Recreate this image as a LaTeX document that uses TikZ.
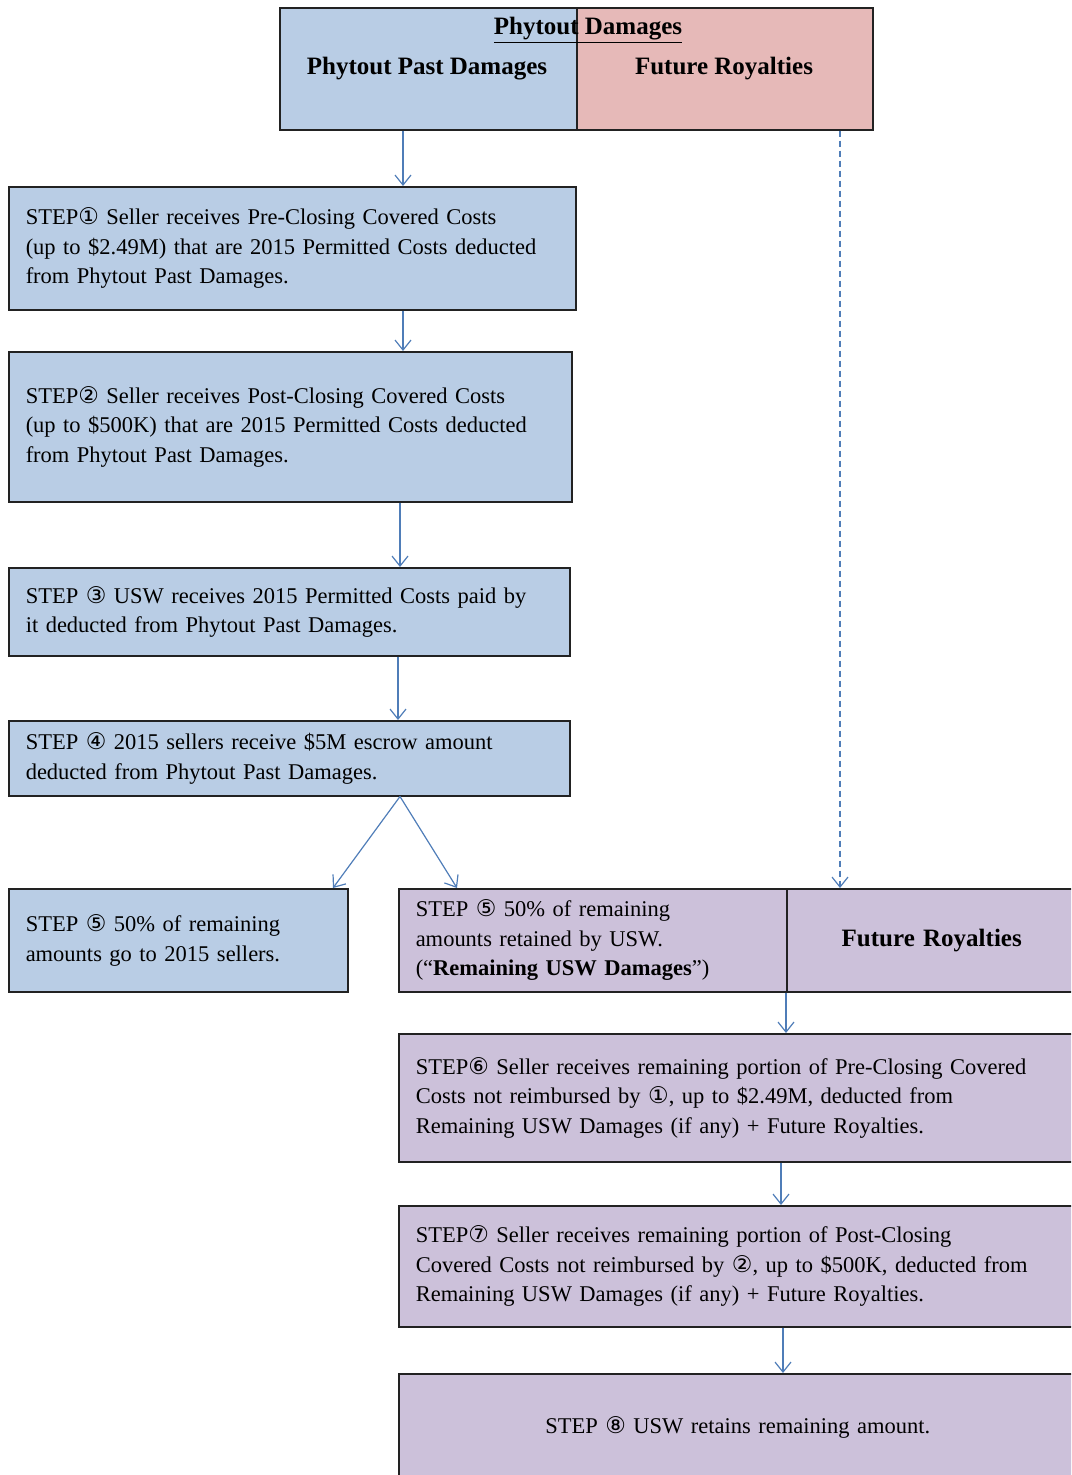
\documentclass[tikz,border=0pt]{standalone}
\usepackage{fontspec}
\setmainfont{Liberation Serif}
\newfontfamily\symfont{DejaVu Sans}
\usetikzlibrary{arrows.meta}
\definecolor{bluefill}{HTML}{B9CDE5}
\definecolor{pinkfill}{HTML}{E6B9B8}
\definecolor{lilac}{HTML}{CCC1DA}
\definecolor{arrowblue}{HTML}{4F7DB8}
\definecolor{edge}{HTML}{222222}
\newcommand\cnum[1]{{\symfont\fontsize{23}{29}\selectfont #1}}
\tikzset{
  box/.style={draw=edge, line width=1.5pt, anchor=north west, inner xsep=17pt, inner ysep=0pt,
    align=left, font=\fontsize{22.5}{29.5}\selectfont},
  bluebox/.style={box, fill=bluefill},
  lilacbox/.style={box, fill=lilac},
  headtext/.style={font=\bfseries\fontsize{25}{29}\selectfont, inner sep=0pt},
  arr/.style={draw=arrowblue, line width=1.2pt, -{Straight Barb[length=10pt,width=16pt]}},
  dasharr/.style={arr, dash pattern=on 6pt off 4pt},
}
\begin{document}
\begin{tikzpicture}[x=1pt,y=-1pt]
\useasboundingbox (0,0) rectangle (1071,1475);
\clip (0,0) rectangle (1071,1475);
% x positions of connectors
\coordinate (c403) at (403,0);
\coordinate (c400) at (400,0);
\coordinate (c398) at (398,0);
\coordinate (c333) at (333,0);
\coordinate (c457) at (457,0);
\coordinate (c840) at (840,0);
\coordinate (c786) at (786,0);
\coordinate (c781) at (781,0);
\coordinate (c783) at (783,0);
% top box
\node[bluebox, minimum width=297pt, minimum height=122pt] (past) at (279,7) {};
\node[box, fill=pinkfill, minimum width=296pt, minimum height=122pt] (fut) at (576,7) {};
\node[headtext] (title) at (588,30) {\underline{Phytout Damages}};
\node[headtext] (pastlbl) at (427,69) {Phytout Past Damages};
\node[headtext] (futlbl) at (724,69) {Future Royalties};
% left column
\node[bluebox, minimum width=567pt, minimum height=123pt, text width=533pt] (s1) at (8,186)
  {STEP\cnum{①} Seller receives Pre-Closing Covered Costs\\(up to \$2.49M) that are 2015 Permitted Costs deducted\\from Phytout Past Damages.};
\node[bluebox, minimum width=563pt, minimum height=150pt, text width=529pt] (s2) at (8,351)
  {STEP\cnum{②} Seller receives Post-Closing Covered Costs\\(up to \$500K) that are 2015 Permitted Costs deducted\\from Phytout Past Damages.};
\node[bluebox, minimum width=561pt, minimum height=88pt, text width=527pt] (s3) at (8,567)
  {STEP \cnum{③} USW receives 2015 Permitted Costs paid by\\it deducted from Phytout Past Damages.};
\node[bluebox, minimum width=561pt, minimum height=75pt, text width=527pt] (s4) at (8,720)
  {STEP \cnum{④} 2015 sellers receive \$5M escrow amount\\deducted from Phytout Past Damages.};
\node[bluebox, minimum width=339pt, minimum height=103pt, text width=305pt] (s5l) at (8,888)
  {STEP \cnum{⑤} 50\% of remaining\\amounts go to 2015 sellers.};
% right column
\node[lilacbox, minimum width=388pt, minimum height=103pt, text width=354pt] (s5r) at (398,888)
  {STEP \cnum{⑤} 50\% of remaining\\amounts retained by USW.\\(“\textbf{Remaining USW Damages}”)};
\node[lilacbox, minimum width=290pt, minimum height=103pt, text width=256pt, align=center,
  font=\bfseries\fontsize{25}{29}\selectfont] (s5f) at (786,888) {Future Royalties};
\node[lilacbox, minimum width=678pt, minimum height=128pt, text width=644pt] (s6) at (398,1033)
  {STEP\cnum{⑥} Seller receives remaining portion of Pre-Closing Covered\\Costs not reimbursed by \cnum{①}, up to \$2.49M, deducted from\\Remaining USW Damages (if any) + Future Royalties.};
\node[lilacbox, minimum width=678pt, minimum height=121pt, text width=644pt] (s7) at (398,1205)
  {STEP\cnum{⑦} Seller receives remaining portion of Post-Closing\\Covered Costs not reimbursed by \cnum{②}, up to \$500K, deducted from\\Remaining USW Damages (if any) + Future Royalties.};
\node[lilacbox, minimum width=678pt, minimum height=108pt, text width=644pt, align=center] (s8) at (398,1373)
  {STEP \cnum{⑧} USW retains remaining amount.};
% connectors
\draw[arr] (past.south -| c403) -- (s1.north -| c403);
\draw[arr] (s1.south -| c403) -- (s2.north -| c403);
\draw[arr] (s2.south -| c400) -- (s3.north -| c400);
\draw[arr] (s3.south -| c398) -- (s4.north -| c398);
\draw[arr] (s4.south -| c400) -- (s5l.north -| c333);
\draw[arr] (s4.south -| c400) -- (s5r.north -| c457);
\draw[dasharr] (fut.south -| c840) -- (s5f.north -| c840);
\draw[arr] (s5r.south -| c786) -- (s6.north -| c786);
\draw[arr] (s6.south -| c781) -- (s7.north -| c781);
\draw[arr] (s7.south -| c783) -- (s8.north -| c783);
\end{tikzpicture}
\end{document}
